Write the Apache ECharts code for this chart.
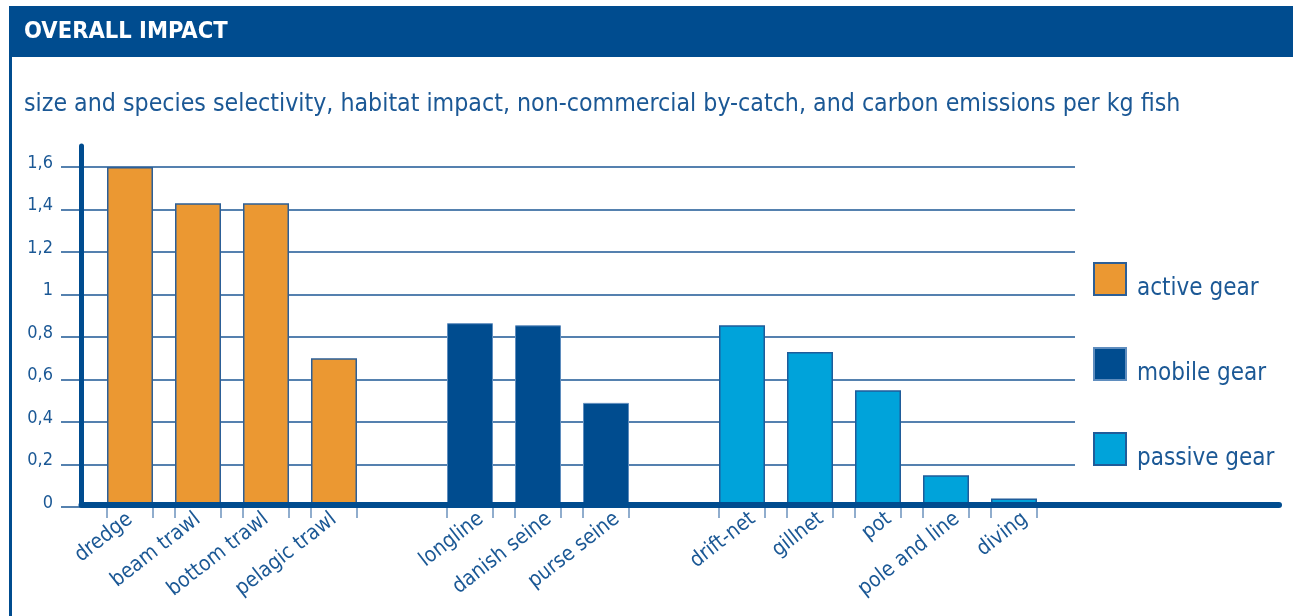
<!DOCTYPE html>
<html>
<head>
<meta charset="utf-8">
<script src="https://cdn.jsdelivr.net/npm/echarts@6/dist/echarts.min.js"></script>
<style>
html,body{margin:0;padding:0;background:#fff;}
#chart{width:1293px;height:616px;}
</style>
</head>
<body>
<div id="chart"></div>
<script>
const titleText = 'OVERALL IMPACT';
const subtitleText = 'size and species selectivity, habitat impact, non-commercial by-catch, and carbon emissions per kg fish';
const categories = ['dredge','beam trawl','bottom trawl','pelagic trawl','','longline','danish seine','purse seine',' ','drift-net','gillnet','pot','pole and line','diving'];
const activeGear  = [1.6, 1.43, 1.43, 0.70, null, null, null, null, null, null, null, null, null, null];
const mobileGear  = [null, null, null, null, null, 0.865, 0.855, 0.49, null, null, null, null, null, null];
const passiveGear = [null, null, null, null, null, null, null, null, null, 0.855, 0.73, 0.55, 0.15, 0.04];
const seriesNames = ['active gear','mobile gear','passive gear'];

const FONT = "'DejaVu Sans Condensed','Liberation Sans Narrow',sans-serif";
const BLUE = '#004C8F';
const TEXT = '#1B5895';
const GRID = '#1D5795';

const tickData = categories.map((c, i) => c.trim() ? [i] : null).filter(d => d);

const chart = echarts.init(document.getElementById('chart'), null, {renderer: 'canvas'});
chart.setOption({
  animation: false,
  backgroundColor: '#fff',
  graphic: [
    {type: 'rect', shape: {x: 9, y: 6, width: 1284, height: 51}, style: {fill: BLUE}, z: 0},
    {type: 'rect', shape: {x: 9, y: 57, width: 3, height: 559}, style: {fill: BLUE}, z: 0}
  ],
  title: [
    {text: titleText, left: 24, top: 20, padding: 0, textStyle: {color: '#fff', fontFamily: FONT, fontWeight: 'bold', fontSize: 23.5}},
    {text: subtitleText, left: 24, top: 92, padding: 0, textStyle: {color: TEXT, fontFamily: FONT, fontWeight: 'normal', fontSize: 24.7}}
  ],
  legend: {
    orient: 'vertical', left: 1093, top: 262, padding: 0, itemWidth: 32, itemHeight: 32, itemGap: 46,
    icon: 'rect', data: seriesNames,
    formatter: name => '{t|' + name + '}',
    textStyle: {color: TEXT, fontFamily: FONT, fontSize: 24, padding: [0, 0, 0, 6],
      rich: {t: {color: TEXT, fontFamily: FONT, fontSize: 24, padding: [20, 0, 0, 0]}}}
  },
  grid: [
    {left: 61, right: 218, top: 167, bottom: 109},
    {left: 96, width: 952, top: 167, bottom: 109},
    {left: 81.5, right: 14, top: 146, bottom: 111.5}
  ],
  xAxis: [
    {gridIndex: 0, type: 'value', show: false, min: 0, max: 1},
    {gridIndex: 1, type: 'category', data: categories, axisLine: {show: false}, axisTick: {show: false},
      axisLabel: {interval: 0, rotate: 38, margin: 10, color: TEXT, fontFamily: FONT, fontSize: 21,
        formatter: (v, i) => v.trim() ? (i >= 5 ? '{s|' + v + '}' : '{f|' + v + '}') : '',
        rich: {
          f: {color: TEXT, fontFamily: FONT, fontSize: 21},
          s: {color: TEXT, fontFamily: FONT, fontSize: 21, padding: [13, -9, 0, 0]}
        }},
    },
    {gridIndex: 2, type: 'value', min: 0, max: 1, z: 5, axisLine: {show: true, lineStyle: {color: BLUE, width: 6}},
      axisTick: {show: false}, axisLabel: {show: false}, splitLine: {show: false}}
  ],
  yAxis: [
    {gridIndex: 0, type: 'value', min: 0, max: 1.6, interval: 0.2, axisLine: {show: false}, axisTick: {show: false},
      splitLine: {show: true, lineStyle: {color: GRID, width: 1.5}},
      axisLabel: {margin: 8, color: TEXT, fontFamily: FONT, fontSize: 18,
        formatter: v => '{v|' + String(Math.round(v * 10) / 10).replace('.', ',') + '}',
        rich: {v: {color: TEXT, fontFamily: FONT, fontSize: 18, padding: [0, 0, 8, 0]}}}},
    {gridIndex: 1, type: 'value', min: 0, max: 1.6, show: false},
    {gridIndex: 2, type: 'value', min: 0, max: 1, z: 5, axisLine: {show: true, lineStyle: {color: BLUE, width: 5}},
      axisTick: {show: false}, axisLabel: {show: false}, splitLine: {show: false}}
  ],
  series: [
    {name: seriesNames[0], type: 'bar', xAxisIndex: 1, yAxisIndex: 1, stack: 'g', barWidth: 46, data: activeGear,
      itemStyle: {color: '#EB9832', borderColor: '#2C5F97', borderWidth: 1.5}},
    {name: seriesNames[1], type: 'bar', xAxisIndex: 1, yAxisIndex: 1, stack: 'g', barWidth: 46, data: mobileGear,
      itemStyle: {color: '#004C8F', borderColor: '#5F8DBE', borderWidth: 1}},
    {name: seriesNames[2], type: 'bar', xAxisIndex: 1, yAxisIndex: 1, stack: 'g', barWidth: 46, data: passiveGear,
      itemStyle: {color: '#00A3DA', borderColor: '#1F5C9A', borderWidth: 1.5}},
    {type: 'custom', xAxisIndex: 1, yAxisIndex: 1, data: tickData, clip: false, silent: true,
      encode: {x: 0},
      renderItem: function (params, api) {
        const p = api.coord([api.value(0), 0]);
        const half = api.size([1, 0])[0] * 46 / 68 / 2;
        const st = {stroke: '#6B92BC', lineWidth: 1.5};
        return {type: 'group', children: [
          {type: 'line', shape: {x1: p[0] - half, y1: p[1], x2: p[0] - half, y2: p[1] + 11}, style: st},
          {type: 'line', shape: {x1: p[0] + half, y1: p[1], x2: p[0] + half, y2: p[1] + 11}, style: st}
        ]};
      }}
  ]
});
</script>
</body>
</html>
